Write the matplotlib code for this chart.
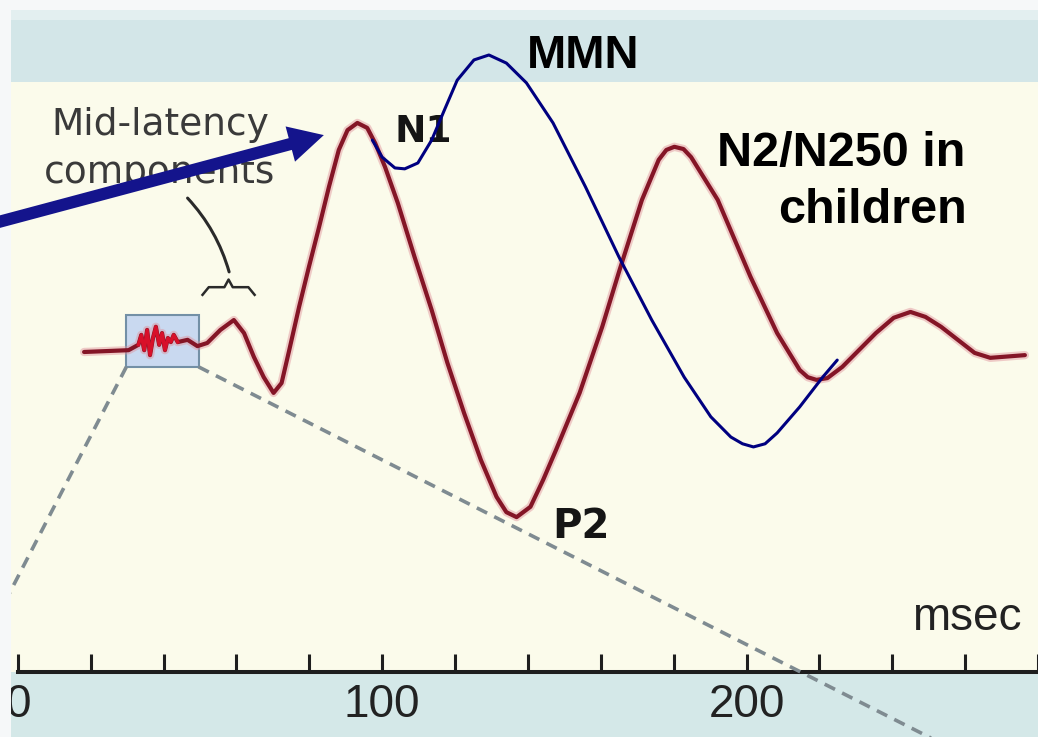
import matplotlib.pyplot as plt

# ERP waveform: latency (ms) and amplitude (uV, negative drawn upward)
erp_ms = [18.2, 30.4, 33.1, 33.9, 34.7, 35.5, 36.3, 37.1, 37.9, 38.8, 39.6, 40.4, 41.2,
          42.0, 42.8, 43.9, 46.6, 49.3, 52.0, 55.6, 59.3, 62.1, 64.8, 67.5, 70.2, 72.4,
          74.5, 77.2, 79.9, 82.7, 85.4, 88.1, 90.5, 93.2, 95.9, 98.1, 100.8, 104.3,
          108.9, 113.6, 117.9, 122.5, 127.1, 131.4, 134.1, 136.9, 140.7, 144.2, 147.7,
          154.2, 160.4, 165.0, 171.3, 175.9, 178.0, 180.2, 182.7, 184.8, 192.1, 201.1,
          208.4, 214.6, 216.8, 219.2, 222.2, 226.3, 235.5, 240.4, 245.0, 249.1, 253.4,
          262.6, 266.9, 276.4]
erp_uv = [0.00, -0.04, -0.16, -0.38, -0.04, -0.49, 0.07, -0.31, -0.56, -0.16, -0.42, -0.04,
          -0.31, -0.22, -0.38, -0.22, -0.27, -0.13, -0.20, -0.49, -0.71, -0.42, 0.11,
          0.56, 0.91, 0.69, -0.04, -1.00, -1.89, -2.78, -3.67, -4.49, -4.93, -5.09,
          -4.98, -4.64, -4.11, -3.31, -2.11, -0.93, 0.24, 1.36, 2.40, 3.22, 3.56, 3.67,
          3.44, 2.84, 2.18, 0.91, -0.56, -1.78, -3.38, -4.27, -4.49, -4.56, -4.51, -4.33,
          -3.38, -1.67, -0.42, 0.40, 0.56, 0.62, 0.58, 0.33, -0.42, -0.76, -0.89, -0.78,
          -0.56, 0.02, 0.13, 0.07]

# mismatch negativity curve drawn over it
mmn_ms = [97.3, 100.0, 103.5, 106.2, 109.8, 113.6, 117.1, 120.6, 125.2, 129.3, 134.1,
          139.6, 146.9, 155.8, 165.0, 174.0, 182.9, 190.2, 195.7, 198.9, 201.9, 205.1,
          208.4, 214.6, 220.9, 224.9]
mmn_uv = [-4.71, -4.33, -4.09, -4.07, -4.20, -4.71, -5.38, -6.04, -6.49, -6.60, -6.42,
          -5.98, -5.09, -3.67, -2.11, -0.71, 0.56, 1.44, 1.89, 2.04, 2.11, 2.04, 1.80,
          1.22, 0.56, 0.18]

# brainstem window (ms, uV) and where its zoom lines go off the picture
box_ms = (29.8, 49.6)
box_uv = (-0.82, 0.33)
zoom_left_end = (-14.6, 7.29)
zoom_right_end = (262.6, 9.07)

tick_ms = list(range(0, 281, 20))
tick_labels = [str(t) if t % 100 == 0 else '' for t in tick_ms]

plt.rcParams['font.family'] = ['Liberation Sans', 'DejaVu Sans']

fig = plt.figure(figsize=(10.38, 7.37), dpi=100)
ax = fig.add_axes([0, 0, 1, 1])
ax.set_xlim(-4.88, 276.4)
ax.set_ylim(8.556, -7.822)
ax.set_facecolor('#f6f8f9')

# background bands
x0 = 11 / 1038
ax.axhspan(-6.0, 7.11, xmin=x0, color='#fbfbeb', zorder=0.1, lw=0)
ax.axhspan(-7.6, -6.0, xmin=x0, color='#d3e6e8', zorder=0.1, lw=0)
ax.axhspan(-7.6, -7.38, xmin=x0, color='#e3eff0', zorder=0.2, lw=0)
ax.axhspan(7.11, 8.556, xmin=x0, color='#d4e8e8', zorder=0.1, lw=0)

# time axis
for side in ['top', 'left', 'right']:
    ax.spines[side].set_visible(False)
ax.yaxis.set_visible(False)
ax.spines['bottom'].set_position(('data', 7.11))
ax.spines['bottom'].set_bounds(0, 280)
ax.spines['bottom'].set_linewidth(2.9)
ax.spines['bottom'].set_color('#1e1e1e')
ax.set_xticks(tick_ms, tick_labels)
ax.tick_params(axis='x', direction='in', length=13, width=2.2, color='#1e1e1e',
               pad=8, labelsize=33, labelcolor='#222222')
ax.text(245.5, 6.18, 'msec', fontsize=33, color='#222222', zorder=5)

# window box and zoom lines
ax.add_patch(plt.Rectangle((box_ms[0], box_uv[0]), box_ms[1] - box_ms[0],
                           box_uv[1] - box_uv[0], facecolor='#c9d9f0',
                           edgecolor='#7390a6', lw=1.5, zorder=2.2))
ax.plot([box_ms[0], zoom_left_end[0]], [box_uv[1], zoom_left_end[1]],
        color='#7f8b91', lw=2.6, dashes=(3.2, 2.2), zorder=2.7)
ax.plot([box_ms[1], zoom_right_end[0]], [box_uv[1], zoom_right_end[1]],
        color='#7f8b91', lw=2.6, dashes=(3.2, 2.2), zorder=2.7)

# ERP waveform
ax.plot(erp_ms, erp_uv, color='#e0909a', lw=6, alpha=0.45, zorder=3,
        solid_joinstyle='round', solid_capstyle='round')
ax.plot(erp_ms, erp_uv, color='#841526', lw=3.0, zorder=3.2,
        solid_joinstyle='round', solid_capstyle='round')
noisy = [i for i, t in enumerate(erp_ms) if 32.5 <= t <= 44.5]
ax.plot([erp_ms[i] for i in noisy], [erp_uv[i] for i in noisy],
        color='#d8102a', lw=2.4, zorder=3.3)

# MMN curve
ax.plot(mmn_ms, mmn_uv, color='#000080', lw=2.2, zorder=3.6,
        solid_joinstyle='round', solid_capstyle='round')

# mid-latency label with brace and leader
ax.text(39.0, -4.82, 'Mid-latency', family='DejaVu Sans', fontsize=27,
        color='#3a3a3a', ha='center', zorder=3.4)
ax.text(39.0, -3.76, 'components', family='DejaVu Sans', fontsize=27,
        color='#3a3a3a', ha='center', zorder=3.4)


def brace(xa, xb, y, h):
    w = xb - xa
    xm = (xa + xb) / 2
    xs = [xa, xa + 0.12 * w, xa + 0.42 * w, xm, xb - 0.42 * w, xb - 0.12 * w, xb]
    ys = [y, y - h, y - h, y - 2 * h, y - h, y - h, y]
    return xs, ys


bx, by = brace(50.7, 65.0, -1.27, 0.17)
ax.plot(bx, by, color='#2a2a2a', lw=1.8, zorder=3.4, solid_joinstyle='round')
ax.annotate('', xy=(58.0, -1.78), xytext=(46.6, -3.42),
            arrowprops=dict(arrowstyle='-', color='#2a2a2a', lw=2.2,
                            connectionstyle='arc3,rad=-0.12',
                            shrinkA=0, shrinkB=0), zorder=3.4)

# peak labels
ax.text(103.5, -4.67, 'N1', family='DejaVu Sans', fontweight='bold', fontsize=27,
        color='#151515', zorder=3.4)
ax.text(146.8, 4.13, 'P2', family='DejaVu Sans', fontweight='bold', fontsize=29,
        color='#151515', zorder=3.4)
ax.text(139.8, -6.31, 'MMN', fontweight='bold', fontsize=34, color='black', zorder=3.4)
ax.text(260.2, -4.13, 'N2/N250 in', fontweight='bold', fontsize=35, color='black',
        ha='right', zorder=3.4)
ax.text(260.6, -2.87, 'children', fontweight='bold', fontsize=35, color='black',
        ha='right', zorder=3.4)

# pale strip on the left edge, over everything but the arrow
ax.axvspan(-4.88, -1.9, color='#f6f8f9', zorder=4.5, lw=0)

# arrow pointing at N1
ax.annotate('', xy=(84.0, -4.82), xytext=(-10.3, -2.78),
            arrowprops=dict(arrowstyle='simple,head_length=1.0,head_width=1.05,tail_width=0.35',
                            mutation_scale=25, color='#14148c', lw=0,
                            shrinkA=0, shrinkB=0), zorder=6)

fig.savefig('out.png', dpi=100)
